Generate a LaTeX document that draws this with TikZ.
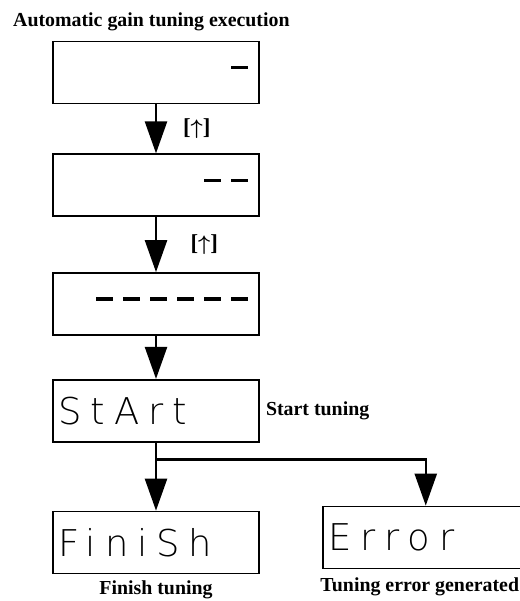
\documentclass[tikz,border=0pt]{standalone}
\usepackage{amsmath}
\usepackage{fontspec}
\setmainfont{Liberation Serif}
\newfontfamily\lcdfont[LetterSpace=24]{DejaVu Sans ExtraLight}
\usetikzlibrary{positioning,arrows.meta}
\newcommand{\seg}{\rule[0.2cm]{0.34cm}{1.8pt}}
\newcommand{\seggap}{\hspace{0.2cm}}

\tikzset{
  disp/.style={draw,line width=1pt,minimum width=4.12cm,minimum height=1.24cm,inner sep=0pt},
  dashdisp/.style={disp,text width=3.68cm,align=right},
  worddisp/.style={disp,text width=3.9cm,align=left,font=\lcdfont\fontsize{21}{24}\selectfont},
  flow/.style={line width=1.4pt,-{Triangle[length=0.64cm,width=0.44cm]}},
  caption/.style={font=\bfseries\fontsize{11.3}{13}\selectfont},
  keylbl/.style={font=\bfseries\fontsize{13}{15}\selectfont},
}

\begin{document}
\begin{tikzpicture}
    \useasboundingbox (0,0) rectangle (10.38,-12.02);

    \node[caption,anchor=base west] (title) at (0.14,-0.54) {Automatic gain tuning execution};

    \node[dashdisp] (b1) at (3.12,-1.45) {\seg};
    \node[dashdisp,below=0.98cm of b1] (b2) {\seg\seggap\seg};
    \node[dashdisp,below=1.1cm of b2] (b3) {\seg\seggap\seg\seggap\seg\seggap\seg\seggap\seg\seggap\seg};
    \node[worddisp,below=0.86cm of b3] (b4) {StArt};
    \node[caption,right=0pt of b4] (lstart) {Start tuning};

    \node[worddisp,below=1.36cm of b4] (fin) {FiniSh};
    \node[worddisp,right=1.24cm of fin,yshift=0.1cm] (err) {Error};
    \node[caption,below=0pt of fin] (lfin) {Finish tuning};
    \node[caption,below=1pt of err,xshift=-0.12cm] (lerr) {Tuning error generated};

    % key presses
    \draw[flow] (b1) -- (b2) node[keylbl,midway,right=0.4cm] (k1) {[$\boldsymbol{\uparrow}$]};
    \draw[flow] (b2) -- (b3) node[keylbl,midway,right=0.55cm] (k2) {[$\boldsymbol{\uparrow}$]};
    \draw[flow] (b3) -- (b4);

    % result of tuning
    \coordinate[below=0.34cm of b4] (split);
    \draw[flow] (b4) -- (fin);
    \draw[flow] (split) -| (err);
\end{tikzpicture}
\end{document}
